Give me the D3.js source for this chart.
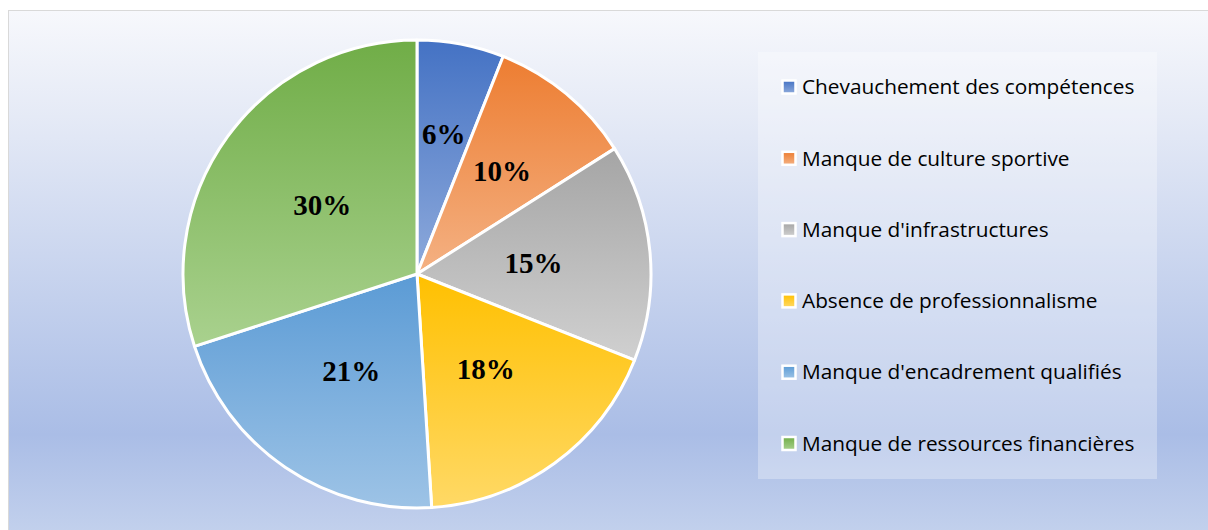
<!DOCTYPE html>
<html><head><meta charset="utf-8">
<script src="https://cdn.jsdelivr.net/npm/d3@7"></script>
<style>html,body{margin:0;padding:0;background:#fff;}svg{display:block;}</style>
</head><body>
<svg id="chart" width="1208" height="530"></svg>
<script>
const categories = ["Chevauchement des compétences","Manque de culture sportive","Manque d'infrastructures","Absence de professionnalisme","Manque d'encadrement qualifiés","Manque de ressources financières"];
const values = [6, 10, 15, 18, 21, 30];
const labels = ["6%","10%","15%","18%","21%","30%"];
const darkColors = ["#4472c4","#ed7d31","#a5a5a5","#ffc000","#5b9bd5","#70ad47"];
const lightColors = ["#8eaadb","#f4b183","#d0d0d0","#ffd966","#9dc3e6","#a9d18e"];
// label placement (fraction of radius), as the spreadsheet pushes small-slice labels outward
const labelRadiusFactor = [0.61, 0.57, 0.5, 0.5, 0.5, 0.5];

const svg = d3.select("#chart");
const defs = svg.append("defs");
const bg = defs.append("linearGradient").attr("id","bg").attr("x1",0).attr("y1",0).attr("x2",0).attr("y2",1);
[[0,"#f7f8fc"],[0.2,"#e5eaf6"],[0.8,"#aabde6"],[1,"#c4d2ed"]].forEach(s=>bg.append("stop").attr("offset",s[0]).attr("stop-color",s[1]));
categories.forEach((c,i)=>{
  const g = defs.append("linearGradient").attr("id","g"+i).attr("x1",0).attr("y1",0).attr("x2",0).attr("y2",1);
  g.append("stop").attr("offset",0).attr("stop-color",darkColors[i]);
  g.append("stop").attr("offset",1).attr("stop-color",lightColors[i]);
});

svg.append("rect").attr("x",8.5).attr("y",10.5).attr("width",1215).attr("height",530)
  .attr("fill","url(#bg)").attr("stroke","#d9d9d9").attr("stroke-width",1);

const cx = 417, cy = 274, r = 234;
const pie = d3.pie().sort(null).value(d=>d)(values);
const arc = d3.arc().innerRadius(0).outerRadius(r);
const gPie = svg.append("g").attr("transform",`translate(${cx},${cy})`);
gPie.selectAll("path").data(pie).join("path")
  .attr("d",arc).attr("fill",(d,i)=>`url(#g${i})`)
  .attr("stroke","#fff").attr("stroke-width",3).attr("stroke-linejoin","round");

gPie.selectAll("text.lbl").data(pie).join("text").attr("class","lbl")
  .attr("text-anchor","middle").attr("dominant-baseline","central")
  .attr("font-family","'Liberation Serif','Times New Roman',serif").attr("font-weight","bold")
  .attr("font-size",29).attr("fill","#000")
  .attr("transform",(d,i)=>{
    const lr = r*labelRadiusFactor[i];
    const c = d3.arc().innerRadius(lr).outerRadius(lr).centroid(d);
    return `translate(${c[0]},${c[1]})`;
  })
  .text((d,i)=>labels[i]);

// legend
const lg = svg.append("g");
lg.append("rect").attr("x",758).attr("y",52).attr("width",399).attr("height",427)
  .attr("fill","#fff").attr("fill-opacity",0.3);
const step = 71.3;
const items = lg.selectAll("g.item").data(categories).join("g").attr("class","item")
  .attr("transform",(d,i)=>`translate(782,${87+i*step})`);
items.append("rect").attr("x",0.5).attr("y",-6.5).attr("width",13).attr("height",13)
  .attr("fill",(d,i)=>`url(#g${i})`).attr("stroke","#fff").attr("stroke-width",2.5);
items.append("text").attr("x",20).attr("y",0).attr("dy","0.35em")
  .attr("font-family","'Open Sans','Noto Sans',sans-serif").attr("font-size",20.8)
  .attr("fill","#000").text(d=>d);
</script>
</body></html>
